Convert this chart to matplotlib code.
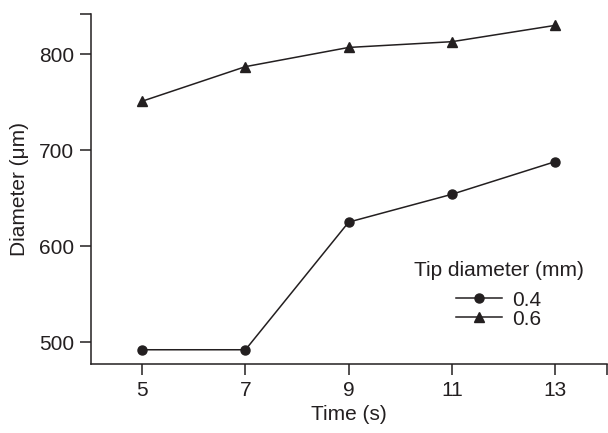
import matplotlib
matplotlib.use("Agg")
import matplotlib.pyplot as plt

plt.rcParams['font.family'] = ['Liberation Sans', 'DejaVu Sans']

time_s = [5, 7, 9, 11, 13]
tip_04 = [492, 492, 625, 654, 688]
tip_06 = [751, 787, 807, 813, 830]
x_ticks = [5, 7, 9, 11, 13]
y_ticks = [500, 600, 700, 800]

INK = '#231f20'
FS = 15

fig = plt.figure(figsize=(6.08, 4.33), dpi=100)
ax = fig.add_axes([0.149, 0.159, 0.849, 0.809])

ax.plot(time_s, tip_04, color=INK, lw=1.1, marker='o', ms=6.5, label='0.4')
ax.plot(time_s, tip_06, color=INK, lw=1.1, marker='^', ms=7.5, label='0.6')

ax.set_xlim(4, 14)
ax.set_ylim(477, 842)

# end caps on the axes get a tick without label
ax.set_xticks(x_ticks + [14])
ax.set_xticklabels([str(t) for t in x_ticks] + [''])
ax.set_yticks(y_ticks + [842])
ax.set_yticklabels([str(t) for t in y_ticks] + [''])

for side in ['top', 'right']:
    ax.spines[side].set_visible(False)
for side in ['left', 'bottom']:
    ax.spines[side].set_color(INK)
    ax.spines[side].set_linewidth(1.1)
ax.tick_params(direction='out', length=8, width=1.1, color=INK,
               labelsize=FS, labelcolor=INK, pad=4)

ax.set_xlabel('Time (s)', fontsize=FS, color=INK, labelpad=4)
ax.set_ylabel('Diameter (μm)', fontsize=FS, color=INK, labelpad=7)

leg = ax.legend(title='Tip diameter (mm)', frameon=False, fontsize=FS,
                title_fontsize=FS, loc='upper center',
                bbox_to_anchor=(499 / 608, 1 - 246 / 433),
                bbox_transform=fig.transFigure,
                handlelength=2.2, labelspacing=0.0, handletextpad=0.5,
                borderpad=0.2)
leg._legend_box.sep = 8
for t in leg.get_texts():
    t.set_color(INK)
leg.get_title().set_color(INK)

fig.savefig('out.png', dpi=100)
